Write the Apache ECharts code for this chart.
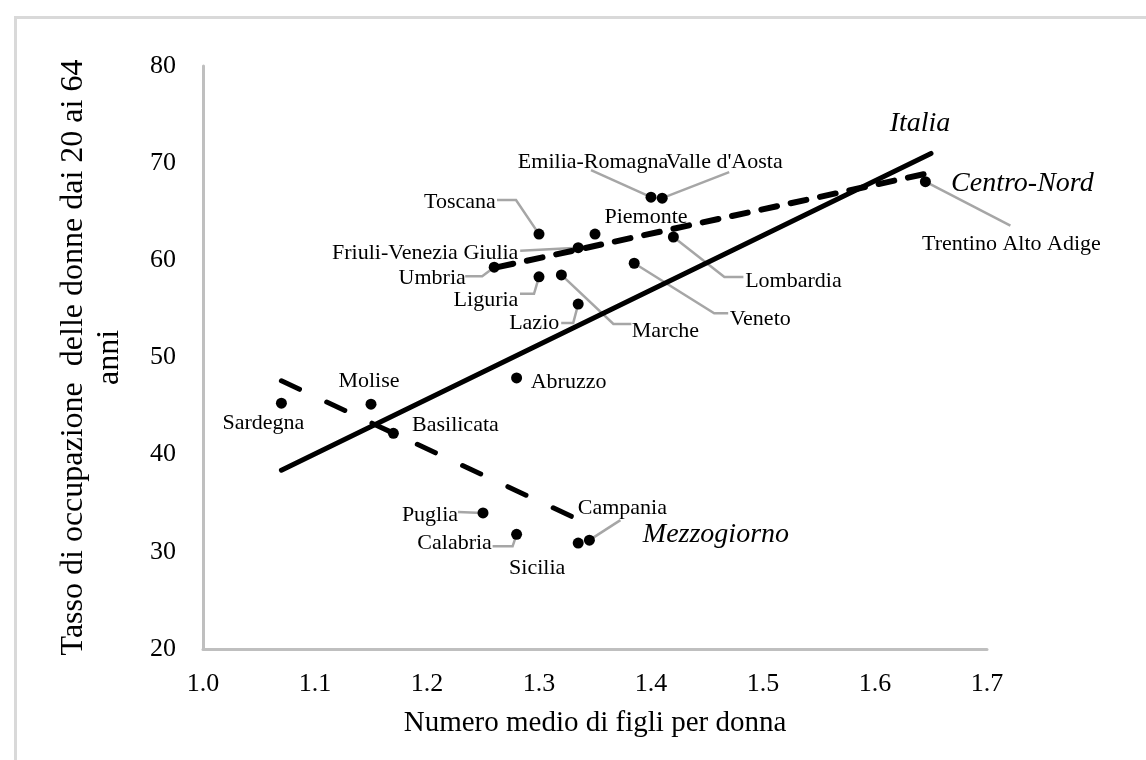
<!DOCTYPE html>
<html>
<head>
<meta charset="utf-8">
<script src="https://cdn.jsdelivr.net/npm/echarts@6/dist/echarts.min.js"></script>
<style>
  html, body { margin: 0; padding: 0; background: #fff; }
  #main { width: 1146px; height: 760px; }
</style>
</head>
<body>
<div id="main"></div>
<script>
// regioni: numero medio di figli per donna (x) e tasso di occupazione femminile 20-64 (y)
const regions = ['Sardegna', 'Molise', 'Basilicata', 'Abruzzo', 'Puglia', 'Calabria', 'Sicilia', 'Campania',
  'Toscana', 'Emilia-Romagna', "Valle d'Aosta", 'Piemonte', 'Friuli-Venezia Giulia', 'Umbria', 'Liguria',
  'Marche', 'Lazio', 'Veneto', 'Lombardia', 'Trentino Alto Adige'];
const fertility = [1.07, 1.15, 1.17, 1.28, 1.25, 1.28, 1.335, 1.345,
  1.30, 1.40, 1.41, 1.35, 1.335, 1.26, 1.30,
  1.32, 1.335, 1.385, 1.42, 1.645];
const employment = [45.3, 45.2, 42.2, 47.9, 34.0, 31.8, 30.9, 31.2,
  62.7, 66.5, 66.4, 62.7, 61.3, 59.3, 58.3,
  58.5, 55.5, 59.7, 62.4, 68.1];

// rette di tendenza (inizio, fine)
const italiaLine = [[1.07, 38.4], [1.65, 71.0]];
const centroNordLine = [[1.263, 59.3], [1.645, 68.9]];
const mezzogiornoLine = [[1.07, 47.6], [1.341, 33.0]];

const xTicks = [1.0, 1.7, 0.1];
const yTicks = [20, 80, 10];

const FONT = '"Liberation Serif", "Times New Roman", serif';

// posizione etichette (pixel rispetto al punto) e linee guida
const placement = {
  'Sardegna': { off: [-18, 20] },
  'Molise': { off: [-2, -23] },
  'Basilicata': { off: [62, -8] },
  'Abruzzo': { off: [52, 4] },
  'Puglia': { off: [-53, 2], line: [[-25, -1]] },
  'Calabria': { off: [-62, 9], line: [[-4, 12], [-24, 12]] },
  'Sicilia': { off: [-41, 25] },
  'Campania': { off: [33, -32], line: [[31, -20]] },
  'Toscana': { off: [-79, -32], line: [[-23, -34], [-42, -34]] },
  'Emilia-Romagna': { off: [-58, -35], line: [[-60, -27]] },
  "Valle d'Aosta": { off: [62, -36], line: [[67, -26]] },
  'Piemonte': { off: [51, -17] },
  'Friuli-Venezia Giulia': { off: [-153, 6], line: [[-58, 3]] },
  'Umbria': { off: [-62, 11], line: [[-12, 9], [-29, 9]] },
  'Liguria': { off: [-53, 23], line: [[-5, 17], [-19, 17]] },
  'Marche': { off: [104, 56], line: [[52, 49], [70, 49]] },
  'Lazio': { off: [-44, 19], line: [[-5, 19], [-17, 19]] },
  'Veneto': { off: [126, 56], line: [[80, 50], [94, 50]] },
  'Lombardia': { off: [120, 44], line: [[51, 40], [70, 40]] },
  'Trentino Alto Adige': { off: [86, 63], line: [[85, 44]] }
};

const points = regions.map((r, i) => [fertility[i], employment[i]]);

function trend(name, pts, dash, width, labelOff) {
  return {
    name: name,
    type: 'line',
    symbol: 'circle',
    symbolSize: 0.1,
    itemStyle: { color: '#000' },
    lineStyle: { color: '#000', width: width, type: dash, cap: 'round' },
    z: 3,
    data: pts.map((p, i) => i === pts.length - 1 ? {
      value: p,
      label: {
        show: true, position: 'inside', offset: labelOff, formatter: name,
        color: '#000', fontFamily: FONT, fontStyle: 'italic', fontSize: 28
      }
    } : { value: p })
  };
}

const myChart = echarts.init(document.getElementById('main'));

const option = {
  animation: false,
  backgroundColor: '#fff',
  graphic: [{
    type: 'rect', left: 13, top: 15, silent: true,
    shape: { width: 1200, height: 800 },
    style: { fill: 'none', stroke: '#d9d9d9', lineWidth: 3 }
  }],
  grid: { left: 203, right: 159, top: 66, bottom: 111 },
  xAxis: {
    type: 'value',
    min: xTicks[0], max: xTicks[1], interval: xTicks[2],
    name: 'Numero medio di figli per donna',
    nameLocation: 'middle', nameGap: 60,
    nameTextStyle: { fontFamily: FONT, fontSize: 29, color: '#000' },
    axisLine: { show: true, lineStyle: { color: '#bfbfbf', width: 3 } },
    axisTick: { show: false },
    splitLine: { show: false },
    axisLabel: { fontFamily: FONT, fontSize: 26, color: '#000', margin: 22,
      formatter: v => v.toFixed(1) }
  },
  yAxis: {
    type: 'value',
    min: yTicks[0], max: yTicks[1], interval: yTicks[2],
    name: 'Tasso di occupazione  delle donne dai 20 ai 64\nanni',
    nameLocation: 'middle', nameGap: 75,
    nameTextStyle: { fontFamily: FONT, fontSize: 32, lineHeight: 36, color: '#000' },
    axisLine: { show: true, lineStyle: { color: '#bfbfbf', width: 3 } },
    axisTick: { show: false },
    splitLine: { show: false },
    axisLabel: { fontFamily: FONT, fontSize: 26, color: '#000', margin: 27 }
  },
  series: [
    {
      name: 'Etichette',
      type: 'custom',
      z: 1,
      clip: false,
      silent: true,
      data: points,
      encode: { x: 0, y: 1 },
      renderItem: function (params, api) {
        const name = regions[params.dataIndex];
        const pl = placement[name];
        const c = api.coord([api.value(0), api.value(1)]);
        const children = [];
        if (pl.line) {
          const pts = [[c[0], c[1]]].concat(pl.line.map(d => [c[0] + d[0], c[1] + d[1]]));
          children.push({
            type: 'polyline',
            shape: { points: pts },
            style: { stroke: '#a6a6a6', lineWidth: 2.5, fill: null }
          });
        }
        children.push({
          type: 'text',
          x: c[0] + pl.off[0],
          y: c[1] + pl.off[1],
          style: {
            text: name, fill: '#000', fontFamily: FONT, fontSize: 22,
            align: 'center', verticalAlign: 'middle'
          }
        });
        return { type: 'group', children: children };
      }
    },
    {
      name: 'Regioni',
      type: 'scatter',
      symbolSize: 11,
      z: 4,
      itemStyle: { color: '#000', opacity: 1 },
      data: points
    },
    trend('Italia', italiaLine, 'solid', 5, [-11, -30]),
    trend('Centro-Nord', centroNordLine, [16, 14], 6, [97, 10]),
    trend('Mezzogiorno', mezzogiornoLine, [20, 30], 5, [131, 12])
  ]
};

myChart.setOption(option);
</script>
</body>
</html>
